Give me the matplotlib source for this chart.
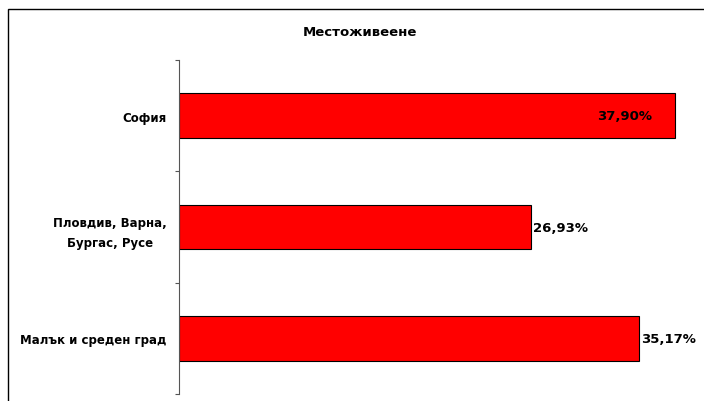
import matplotlib
matplotlib.use("Agg")
import matplotlib.pyplot as plt
import matplotlib.patches as patches

# данни
categories = ["София", "Пловдив, Варна,\nБургас, Русе", "Малък и среден град"]
values = [37.90, 26.93, 35.17]
title = "Местоживеене"

W, H = 704, 402
fig = plt.figure(figsize=(W / 100, H / 100), dpi=100)

# рамка около диаграмата
frame = patches.Rectangle((8 / W, -0.05), 1.2, (H - 10) / H + 0.05,
                          transform=fig.transFigure, fill=False,
                          edgecolor="black", linewidth=1.0)
fig.patches.append(frame)

ax = fig.add_axes([179 / W, 7 / H, (702 - 179) / W, (395 - 61) / H])

ypos = list(range(len(categories)))
bars = ax.barh(ypos, values, height=0.4, color="#ff0000",
               edgecolor="black", linewidth=0.8)

ax.set_xlim(0, 40)
ax.set_ylim(len(categories) - 0.5, -0.5)

# етикети със стойностите
for y, v in zip(ypos, values):
    txt = f"{v:.2f}%".replace(".", ",")
    if v > 36:
        ax.text(v - 1.75, y, txt, ha="right", va="center",
                fontsize=9.5, fontweight="bold")
    else:
        ax.text(v + 0.15, y, txt, ha="left", va="center",
                fontsize=9.5, fontweight="bold")

ax.set_yticks(ypos)
ax.set_yticklabels(categories, fontsize=8.5, fontweight="bold",
                   multialignment="center", linespacing=1.7)
ax.tick_params(axis="y", which="major", length=0, pad=9)
ax.set_yticks([-0.5, 0.5, 1.5, 2.5], minor=True)
ax.tick_params(axis="y", which="minor", length=3, color="#555555", width=0.8)
ax.set_xticks([])

for s in ["top", "right", "bottom"]:
    ax.spines[s].set_visible(False)
ax.spines["left"].set_color("#555555")
ax.spines["left"].set_linewidth(0.8)

fig.text(360 / W, 1 - 32 / H, title, ha="center", va="center",
         fontsize=9.5, fontweight="bold")

fig.savefig("out.png", dpi=100)
